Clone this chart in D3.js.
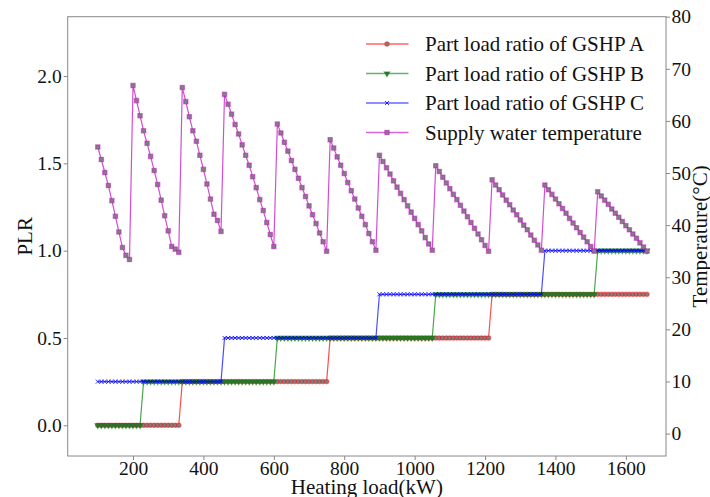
<!DOCTYPE html>
<html>
<head>
<meta charset="utf-8">
<script src="https://cdn.jsdelivr.net/npm/d3@7"></script>
<style>
  body { margin: 0; background: #fff; }
  svg text { font-family: 'Liberation Serif', 'Times New Roman', serif !important; fill: #111; }
</style>
</head>
<body>
<svg id="chart" width="710" height="497"></svg>
<script>
// heating load (kW), one entry per simulated point
const heatingLoad = [
  100, 110, 120, 130, 140, 150, 160, 170, 180, 190,
  200, 210, 220, 230, 240, 250, 260, 270, 280, 290, 300, 310, 320, 330,
  340, 350, 360, 370, 380, 390, 400, 410, 420, 430, 440, 450,
  460, 470, 480, 490, 500, 510, 520, 530, 540, 550, 560, 570, 580, 590, 600,
  610, 620, 630, 640, 650, 660, 670, 680, 690, 700, 710, 720, 730, 740, 750,
  760, 770, 780, 790, 800, 810, 820, 830, 840, 850, 860, 870, 880, 890,
  900, 910, 920, 930, 940, 950, 960, 970, 980, 990, 1000, 1010, 1020, 1030, 1040, 1050,
  1060, 1070, 1080, 1090, 1100, 1110, 1120, 1130, 1140, 1150, 1160, 1170, 1180, 1190, 1200, 1210,
  1220, 1230, 1240, 1250, 1260, 1270, 1280, 1290, 1300, 1310, 1320, 1330, 1340, 1350, 1360,
  1370, 1380, 1390, 1400, 1410, 1420, 1430, 1440, 1450, 1460, 1470, 1480, 1490, 1500, 1510,
  1520, 1530, 1540, 1550, 1560, 1570, 1580, 1590, 1600, 1610, 1620, 1630, 1640, 1650, 1660
]

const plrA = [
  0, 0, 0, 0, 0, 0, 0, 0, 0, 0,
  0, 0, 0, 0, 0, 0, 0, 0, 0, 0, 0, 0, 0, 0,
  0.25, 0.25, 0.25, 0.25, 0.25, 0.25, 0.25, 0.25, 0.25, 0.25, 0.25, 0.25,
  0.25, 0.25, 0.25, 0.25, 0.25, 0.25, 0.25, 0.25, 0.25, 0.25, 0.25, 0.25, 0.25, 0.25, 0.25,
  0.25, 0.25, 0.25, 0.25, 0.25, 0.25, 0.25, 0.25, 0.25, 0.25, 0.25, 0.25, 0.25, 0.25, 0.25,
  0.5, 0.5, 0.5, 0.5, 0.5, 0.5, 0.5, 0.5, 0.5, 0.5, 0.5, 0.5, 0.5, 0.5,
  0.5, 0.5, 0.5, 0.5, 0.5, 0.5, 0.5, 0.5, 0.5, 0.5, 0.5, 0.5, 0.5, 0.5, 0.5, 0.5,
  0.5, 0.5, 0.5, 0.5, 0.5, 0.5, 0.5, 0.5, 0.5, 0.5, 0.5, 0.5, 0.5, 0.5, 0.5, 0.5,
  0.75, 0.75, 0.75, 0.75, 0.75, 0.75, 0.75, 0.75, 0.75, 0.75, 0.75, 0.75, 0.75, 0.75, 0.75,
  0.75, 0.75, 0.75, 0.75, 0.75, 0.75, 0.75, 0.75, 0.75, 0.75, 0.75, 0.75, 0.75, 0.75, 0.75,
  0.75, 0.75, 0.75, 0.75, 0.75, 0.75, 0.75, 0.75, 0.75, 0.75, 0.75, 0.75, 0.75, 0.75, 0.75
]

const plrB = [
  0, 0, 0, 0, 0, 0, 0, 0, 0, 0,
  0, 0, 0, 0.25, 0.25, 0.25, 0.25, 0.25, 0.25, 0.25, 0.25, 0.25, 0.25, 0.25,
  0.25, 0.25, 0.25, 0.25, 0.25, 0.25, 0.25, 0.25, 0.25, 0.25, 0.25, 0.25,
  0.25, 0.25, 0.25, 0.25, 0.25, 0.25, 0.25, 0.25, 0.25, 0.25, 0.25, 0.25, 0.25, 0.25, 0.25,
  0.5, 0.5, 0.5, 0.5, 0.5, 0.5, 0.5, 0.5, 0.5, 0.5, 0.5, 0.5, 0.5, 0.5, 0.5,
  0.5, 0.5, 0.5, 0.5, 0.5, 0.5, 0.5, 0.5, 0.5, 0.5, 0.5, 0.5, 0.5, 0.5,
  0.5, 0.5, 0.5, 0.5, 0.5, 0.5, 0.5, 0.5, 0.5, 0.5, 0.5, 0.5, 0.5, 0.5, 0.5, 0.5,
  0.75, 0.75, 0.75, 0.75, 0.75, 0.75, 0.75, 0.75, 0.75, 0.75, 0.75, 0.75, 0.75, 0.75, 0.75, 0.75,
  0.75, 0.75, 0.75, 0.75, 0.75, 0.75, 0.75, 0.75, 0.75, 0.75, 0.75, 0.75, 0.75, 0.75, 0.75,
  0.75, 0.75, 0.75, 0.75, 0.75, 0.75, 0.75, 0.75, 0.75, 0.75, 0.75, 0.75, 0.75, 0.75, 0.75,
  1, 1, 1, 1, 1, 1, 1, 1, 1, 1, 1, 1, 1, 1, 1
]

const plrC = [
  0.25, 0.25, 0.25, 0.25, 0.25, 0.25, 0.25, 0.25, 0.25, 0.25,
  0.25, 0.25, 0.25, 0.25, 0.25, 0.25, 0.25, 0.25, 0.25, 0.25, 0.25, 0.25, 0.25, 0.25,
  0.25, 0.25, 0.25, 0.25, 0.25, 0.25, 0.25, 0.25, 0.25, 0.25, 0.25, 0.25,
  0.5, 0.5, 0.5, 0.5, 0.5, 0.5, 0.5, 0.5, 0.5, 0.5, 0.5, 0.5, 0.5, 0.5, 0.5,
  0.5, 0.5, 0.5, 0.5, 0.5, 0.5, 0.5, 0.5, 0.5, 0.5, 0.5, 0.5, 0.5, 0.5, 0.5,
  0.5, 0.5, 0.5, 0.5, 0.5, 0.5, 0.5, 0.5, 0.5, 0.5, 0.5, 0.5, 0.5, 0.5,
  0.75, 0.75, 0.75, 0.75, 0.75, 0.75, 0.75, 0.75, 0.75, 0.75, 0.75, 0.75, 0.75, 0.75, 0.75, 0.75,
  0.75, 0.75, 0.75, 0.75, 0.75, 0.75, 0.75, 0.75, 0.75, 0.75, 0.75, 0.75, 0.75, 0.75, 0.75, 0.75,
  0.75, 0.75, 0.75, 0.75, 0.75, 0.75, 0.75, 0.75, 0.75, 0.75, 0.75, 0.75, 0.75, 0.75, 0.75,
  1, 1, 1, 1, 1, 1, 1, 1, 1, 1, 1, 1, 1, 1, 1,
  1, 1, 1, 1, 1, 1, 1, 1, 1, 1, 1, 1, 1, 1, 1
]

// supply water temperature (°C)
const supplyTemp = [
  55.0, 52.6, 50.1, 47.6, 44.7, 41.7, 38.7, 35.7, 34.2, 33.4,
  66.8, 63.9, 61.0, 58.1, 55.7, 53.2, 50.5, 47.8, 44.8, 41.8, 38.9, 35.9, 35.4, 34.8,
  66.4, 63.7, 60.8, 58.1, 56.1, 53.4, 50.7, 47.9, 45.0, 42.1, 40.9, 38.8,
  65.1, 63.2, 61.3, 59.3, 57.5, 55.4, 53.4, 51.5, 49.3, 47.2, 44.9, 42.8, 40.5, 38.2, 35.9,
  59.4, 57.7, 55.9, 54.2, 52.4, 50.7, 49.0, 47.2, 45.5, 43.7, 42.0, 40.3, 38.5, 36.8, 35.0,
  56.4, 54.8, 53.1, 51.5, 49.9, 48.2, 46.6, 45.0, 43.3, 41.7, 40.1, 38.4, 36.8, 35.2,
  53.4, 52.2, 51.0, 49.8, 48.5, 47.3, 46.1, 44.9, 43.7, 42.5, 41.3, 40.1, 38.9, 37.6, 36.4, 35.2,
  51.4, 50.3, 49.2, 48.1, 47.0, 45.9, 44.9, 43.8, 42.7, 41.6, 40.5, 39.4, 38.3, 37.2, 36.1, 35.0,
  48.7, 47.7, 46.8, 45.8, 44.8, 43.9, 42.9, 42.0, 41.0, 40.0, 39.1, 38.1, 37.1, 36.2, 35.2,
  47.7, 46.8, 45.9, 45.0, 44.1, 43.2, 42.3, 41.3, 40.4, 39.5, 38.6, 37.7, 36.8, 35.9, 35.0,
  46.4, 45.6, 44.8, 44.0, 43.1, 42.3, 41.5, 40.7, 39.9, 39.1, 38.3, 37.5, 36.6, 35.8, 35.0
]

const xTicks = [200, 400, 600, 800, 1000, 1200, 1400, 1600]
const plrTicks = [0, 0.5, 1.0, 1.5, 2.0]
const tempTicks = [0, 10, 20, 30, 40, 50, 60, 70, 80]

const legendLabels = [
  'Part load ratio of GSHP A',
  'Part load ratio of GSHP B',
  'Part load ratio of GSHP C',
  'Supply water temperature'
]

const SERIF = "'Liberation Serif', 'Times New Roman', serif"
const LEFT = 67.7
const RIGHT = 666
const TOP = 16.7
const BOTTOM = 456

const svg = d3.select('#chart')

const xScale = d3.scaleLinear().domain([14.5, 1714]).range([LEFT, RIGHT])
const yPlr = d3.scaleLinear().domain([-0.176, 2.34]).range([BOTTOM, TOP])
const yTemp = d3.scaleLinear().domain([-4.3, 80.0]).range([BOTTOM, TOP])

const styleAxis = g => {
  g.attr('font-family', SERIF).attr('font-size', 19.5)
  g.select('.domain').remove()
  g.selectAll('.tick line').attr('stroke', '#888').attr('stroke-width', 1)
  g.selectAll('.tick text').attr('fill', '#111').attr('font-family', SERIF)
}

svg.append('g')
  .attr('transform', `translate(0, ${BOTTOM})`)
  .call(d3.axisBottom(xScale).tickValues(xTicks).tickSize(4).tickPadding(1.5).tickFormat(d3.format('d')))
  .call(styleAxis)

svg.append('g')
  .attr('transform', `translate(${LEFT}, 0)`)
  .call(d3.axisLeft(yPlr).tickValues(plrTicks).tickSize(4).tickPadding(2).tickFormat(d3.format('.1f')))
  .call(styleAxis)

svg.append('g')
  .attr('transform', `translate(${RIGHT}, 0)`)
  .call(d3.axisRight(yTemp).tickValues(tempTicks).tickSize(4).tickPadding(1.5).tickFormat(d3.format('d')))
  .call(styleAxis)

// frame
svg.append('rect')
  .attr('x', LEFT)
  .attr('y', TOP)
  .attr('width', RIGHT - LEFT)
  .attr('height', BOTTOM - TOP)
  .attr('fill', 'none')
  .attr('stroke', '#888')
  .attr('stroke-width', 1)

const series = [
  { values: plrA, scale: yPlr, color: '#ff0000', marker: 'circle', fill: '#808080' },
  { values: plrB, scale: yPlr, color: '#008000', marker: 'triangle', fill: '#3a6e3a' },
  { values: plrC, scale: yPlr, color: '#0000ff', marker: 'x', fill: 'none' },
  { values: supplyTemp, scale: yTemp, color: '#c000c0', marker: 'square', fill: '#808080' }
]

const markerPath = type => {
  if (type === 'circle') return d3.symbol(d3.symbolCircle, 15)()
  if (type === 'square') return d3.symbol(d3.symbolSquare, 19)()
  if (type === 'triangle') return d3.symbol(d3.symbolTriangle, 13)()
  return 'M-2,-2L2,2M-2,2L2,-2'
}

const drawMarker = (sel, s) => {
  sel.attr('d', markerPath(s.marker))
    .attr('fill', s.fill)
    .attr('stroke', s.color)
    .attr('stroke-opacity', s.marker === 'x' ? 0.8 : 0.45)
    .attr('stroke-width', s.marker === 'x' ? 1 : 1.2)
}

const plot = svg.append('g')

series.forEach(s => {
  const pts = heatingLoad.map((x, i) => ({ x, y: s.values[i] }))
  const line = d3.line().x(d => xScale(d.x)).y(d => s.scale(d.y))

  plot.append('path')
    .attr('d', line(pts))
    .attr('fill', 'none')
    .attr('stroke', s.color)
    .attr('stroke-opacity', 0.7)
    .attr('stroke-width', 1.2)

  plot.append('g').selectAll('path')
    .data(pts)
    .join('path')
    .attr('transform', d => `translate(${xScale(d.x)}, ${s.scale(d.y)})${s.marker === 'triangle' ? ' rotate(180)' : ''}`)
    .call(sel => drawMarker(sel, s))
})

// legend
const legend = svg.append('g')
const rowY = [44, 73.5, 103, 132.5]
series.forEach((s, i) => {
  legend.append('line')
    .attr('x1', 366).attr('x2', 408.5)
    .attr('y1', rowY[i]).attr('y2', rowY[i])
    .attr('stroke', s.color)
    .attr('stroke-opacity', 0.6)
    .attr('stroke-width', 1.5)
  legend.append('path')
    .attr('transform', `translate(387, ${rowY[i]})${s.marker === 'triangle' ? ' rotate(180)' : ''}`)
    .call(sel => drawMarker(sel, s))
  legend.append('text')
    .attr('x', 425)
    .attr('y', rowY[i] + 7)
    .attr('font-family', SERIF)
    .attr('font-size', 21)
    .text(legendLabels[i])
})

// axis titles
svg.append('text')
  .attr('x', (LEFT + RIGHT) / 2)
  .attr('y', 494)
  .attr('text-anchor', 'middle')
  .attr('font-family', SERIF)
  .attr('font-size', 21)
  .text('Heating load(kW)')

svg.append('text')
  .attr('transform', `translate(32, ${(TOP + BOTTOM) / 2}) rotate(-90)`)
  .attr('text-anchor', 'middle')
  .attr('font-family', SERIF)
  .attr('font-size', 21)
  .text('PLR')

svg.append('text')
  .attr('transform', `translate(707, ${(TOP + BOTTOM) / 2}) rotate(-90)`)
  .attr('text-anchor', 'middle')
  .attr('font-family', SERIF)
  .attr('font-size', 21)
  .text('Temperature(°C)')
</script>
</body>
</html>
